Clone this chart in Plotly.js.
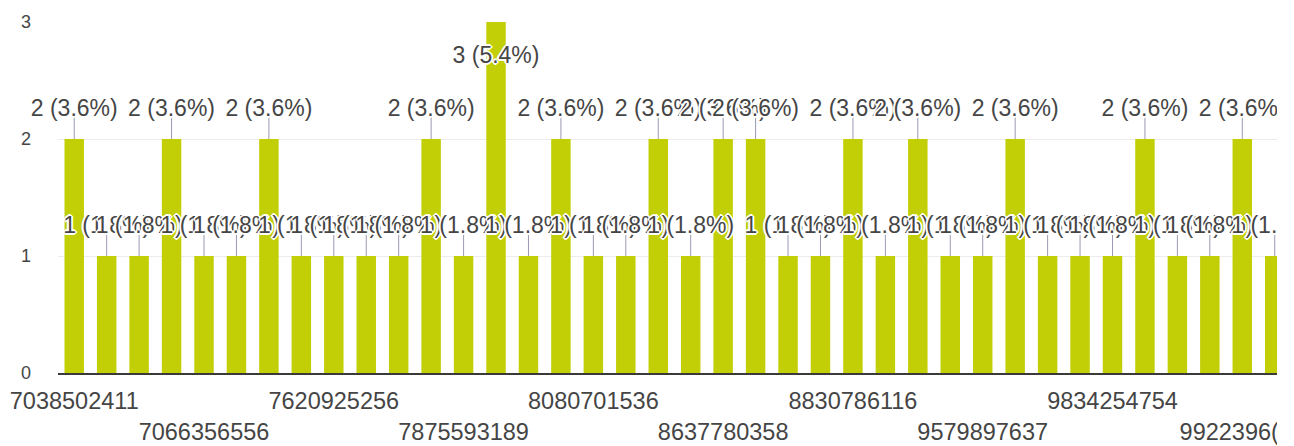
<!DOCTYPE html>
<html>
<head>
<meta charset="utf-8">
<script src="https://cdn.plot.ly/plotly-3.0.1.min.js"></script>
<style>
  html, body { margin: 0; padding: 0; background: #fff; }
  #chart { width: 1294px; height: 446px; }
</style>
</head>
<body>
<div id="chart"></div>
<script>
// ---- data ----
// null = category whose name is not printed on the axis
const categories = [
  '7038502411', null, null, null,
  '7066356556', null, null, null,
  '7620925256', null, null, null,
  '7875593189', null, null, null,
  '8080701536', null, null, null,
  '8637780358', null, null, null,
  '8830786116', null, null, null,
  '9579897637', null, null, null,
  '9834254754', null, null, null,
  '9922396(\u2007\u2007', null
];
const values = [2,1,1,2,1,1,2,1,1,1, 1,2,1,3,1,2,1,1,2,1, 2,2,1,1,2,1,2,1,1,2, 1,1,1,2,1,1,2,1];
const totalResponses = 56;
const yTicks = [0, 1, 2, 3];

// ---- styling ----
const BAR = '#c3cf06';
const TEXT = '#454545';
const FONT = 'Arial, "Liberation Sans", sans-serif';
const yMax = 3;
const labelUp = 0.25, labelDown = 0.3, stem = 0.19;

const xs = values.map((_, i) => i);
const labelText = values.map(v => `${v} (${(v / totalResponses * 100).toFixed(1)}%)`);
const labelY = values.map(v => (v + labelUp > yMax ? v - labelDown : v + labelUp));

const stemX = [], stemY = [];
values.forEach((v, i) => {
  if (v + labelUp <= yMax) { stemX.push(i, i, null); stemY.push(v, v + stem, null); }
});

const tickvals = [], ticktext = [];
let row = 0;
categories.forEach((c, i) => {
  if (c !== null) {
    tickvals.push(i);
    ticktext.push(row % 2 === 0 ? c : '<br>' + c);
    row++;
  }
});

const halo = ['2px 0 0 #fff','-2px 0 0 #fff','0 2px 0 #fff','0 -2px 0 #fff',
              '1px 1px 0 #fff','-1px -1px 0 #fff','1px -1px 0 #fff','-1px 1px 0 #fff'].join(', ');

const traces = [
  { type: 'bar', x: xs, y: values, marker: { color: BAR, line: { width: 0 } },
    hoverinfo: 'none', cliponaxis: true },
  { type: 'scatter', mode: 'lines', x: stemX, y: stemY,
    line: { color: '#9a9ab4', width: 1 }, hoverinfo: 'none', cliponaxis: false },
  { type: 'scatter', mode: 'text', x: xs, y: labelY, text: labelText,
    textposition: 'middle center', cliponaxis: false, hoverinfo: 'none',
    textfont: { family: FONT, size: 23, color: TEXT, shadow: halo } }
];

const layout = {
  width: 1294, height: 446,
  margin: { l: 58, r: 17, t: 22, b: 73, pad: 0 },
  paper_bgcolor: '#fff', plot_bgcolor: '#fff',
  showlegend: false,
  bargap: 0.4,
  font: { family: FONT, color: TEXT },
  xaxis: {
    range: [-0.5, 37.07], showgrid: false, zeroline: false,
    showline: true, linecolor: '#3a3a3a', linewidth: 2,
    tickmode: 'array', tickvals: tickvals, ticktext: ticktext,
    ticks: '', tickangle: 0, tickfont: { family: FONT, size: 23.5, color: TEXT },
    ticklabelstandoff: 6, ticklabeloverflow: 'allow'
  },
  yaxis: {
    range: [0, yMax], tickmode: 'array', tickvals: yTicks, ticktext: yTicks.map(String),
    showgrid: true, gridcolor: '#ececec', gridwidth: 1, zeroline: false,
    ticks: '', tickfont: { family: FONT, size: 18, color: TEXT },
    ticklabelstandoff: 26
  },
  shapes: [
    { type: 'rect', xref: 'paper', yref: 'paper', x0: 1, x1: 1.1, y0: -0.5, y1: 1.2,
      fillcolor: '#fff', line: { width: 0 }, layer: 'above' }
  ]
};

Plotly.newPlot('chart', traces, layout, { displayModeBar: false, staticPlot: true });
</script>
</body>
</html>
